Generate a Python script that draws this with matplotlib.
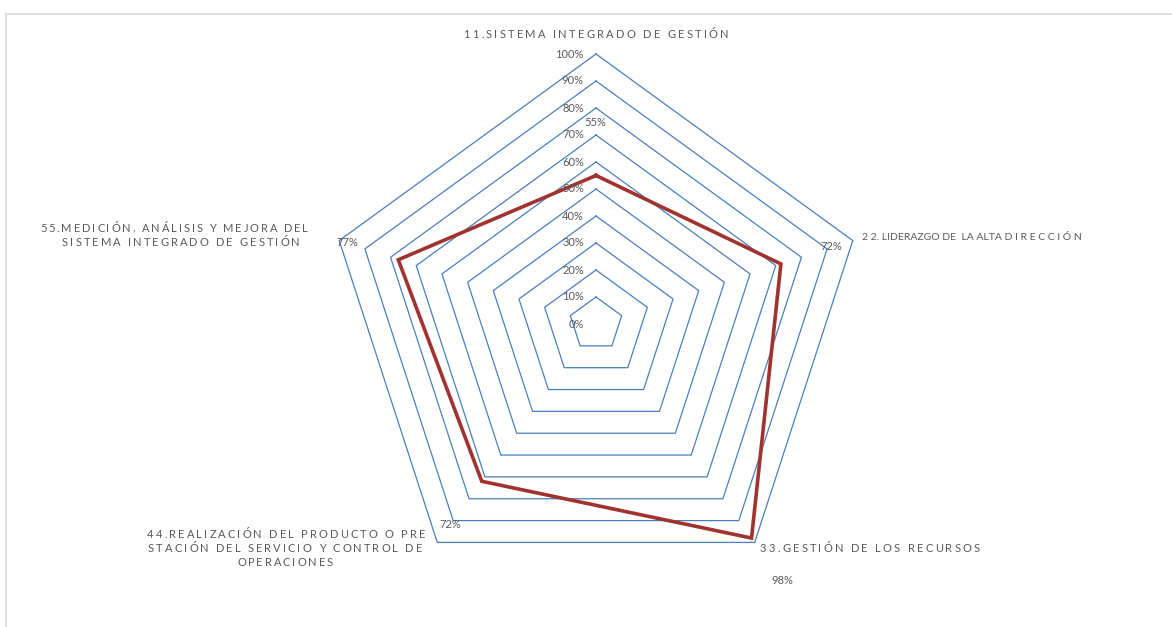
import numpy as np
import matplotlib
matplotlib.use("Agg")
import matplotlib.pyplot as plt
from matplotlib.font_manager import FontProperties
from matplotlib.lines import Line2D

# Datos del gráfico radar
categorias = [
    "11.SISTEMA INTEGRADO DE GESTIÓN",
    "2 2. LIDERAZGO DE  LA ALTA D I R E C C I Ó N",
    "33.GESTIÓN DE LOS RECURSOS",
    "44.REALIZACIÓN DEL PRODUCTO O PRE\nSTACIÓN DEL SERVICIO Y CONTROL DE\nOPERACIONES",
    "55.MEDICIÓN, ANÁLISIS Y MEJORA DEL\nSISTEMA INTEGRADO DE GESTIÓN",
]
valores = [0.55, 0.72, 0.98, 0.72, 0.77]
niveles = [0.0, 0.1, 0.2, 0.3, 0.4, 0.5, 0.6, 0.7, 0.8, 0.9, 1.0]
etiquetas_niveles = ["0%", "10%", "20%", "30%", "40%", "50%", "60%", "70%", "80%", "90%", "100%"]
etiquetas_valores = ["55%", "72%", "98%", "72%", "77%"]

W, H = 1172, 627
CX, CY, R = 596, 324, 270  # centro y radio en pixeles
GRIS = "#595959"
AZUL = "#4a7ebb"
ROJO = "#a0332f"
FUENTE = "Lato"

fig = plt.figure(figsize=(W / 100, H / 100), dpi=100)
ax = fig.add_axes([0, 0, 1, 1])
ax.set_xlim(-CX / R, (W - CX) / R)
ax.set_ylim(-(H - CY) / R, CY / R)
ax.axis("off")

n = len(categorias)
angulos = np.arange(n) * 2 * np.pi / n
angulos_c = np.append(angulos, angulos[0])

# Rejilla poligonal
for nv in niveles[1:]:
    ax.plot(nv * np.sin(angulos_c), nv * np.cos(angulos_c), color=AZUL, lw=0.9)

# Serie
v = np.append(valores, valores[0])
ax.plot(v * np.sin(angulos_c), v * np.cos(angulos_c), color=ROJO, lw=2.6,
        solid_joinstyle="miter")

# Etiquetas de escala
for nv, et in zip(niveles, etiquetas_niveles):
    ax.text(-0.045, nv, et, ha="right", va="center", fontsize=8,
            color=GRIS, family=FUENTE)

# Borde del área del gráfico
fig.add_artist(Line2D([6 / W, 1], [1 - 14 / H, 1 - 14 / H], color="#d9d9d9", lw=1.2))
fig.add_artist(Line2D([6 / W, 6 / W], [1 - 14 / H, 0], color="#d9d9d9", lw=1.2))

renderer = fig.canvas.get_renderer()
fp = FontProperties(family=FUENTE, size=8)


def ancho(c, prop):
    # avance del caracter (no solo la tinta)
    base = renderer.get_text_width_height_descent("HH", prop, ismath=False)[0]
    return renderer.get_text_width_height_descent("H" + c + "H", prop, ismath=False)[0] - base


def texto_espaciado(s, px, py, total, ha="center", escalar=False):
    if escalar:
        # texto normal, solo ajustado de tamaño
        t = fig.text(px / W, 1 - py / H, s, ha="left", va="center",
                     fontproperties=fp, color=GRIS)
        natural = t.get_window_extent(renderer).width
        t.set_fontsize(8 * total / natural)
        return
    anchos = [ancho(c, fp) for c in s]
    espacio = (total - sum(anchos)) / (len(s) - 1)
    x = px - total / 2 if ha == "center" else px
    for c, w in zip(s, anchos):
        if c != " ":
            fig.text(x / W, 1 - py / H, c, ha="left", va="center",
                     fontproperties=fp, color=GRIS)
        x += w + espacio


# Etiquetas de categorias (posicion en pixeles y ancho total)
pos_cat = [
    [(596, 34, "center", 265, False)],
    [(862, 237, "left", 220, True)],
    [(760, 548, "left", 220, False)],
    [(286, 535, "center", 278, False), (285, 549, "center", 274, False),
     (285, 563, "center", 96, False)],
    [(174, 228, "center", 268, False), (181, 243, "center", 238, False)],
]
for cat, pos in zip(categorias, pos_cat):
    for linea, (px, py, ha, tot, esc) in zip(cat.split("\n"), pos):
        texto_espaciado(linea, px, py, tot, ha, esc)

# Etiquetas de datos
pos_val = [(595, 123), (831, 247), (782, 581), (450, 524), (347, 243)]
for et, (px, py) in zip(etiquetas_valores, pos_val):
    fig.text(px / W, 1 - py / H, et, ha="center", va="center",
             fontproperties=fp, color=GRIS)

fig.savefig("out.png", dpi=100)
